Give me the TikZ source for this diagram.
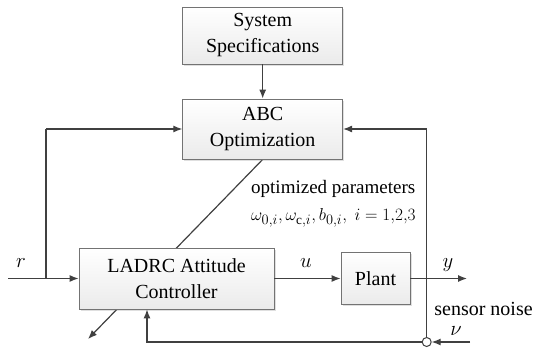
\documentclass[tikz,border=0pt]{standalone}
\usepackage{fontspec}
\setmainfont{Liberation Serif}
\usepackage{amsmath}
\usetikzlibrary{arrows.meta,backgrounds,calc,shadows}

\begin{document}
\begin{tikzpicture}[x=1pt,y=-1pt,
    font=\fontsize{20}{26}\selectfont,
    block/.style={draw=black!55,line width=0.8pt,top color=white,bottom color=black!8,
        align=center,inner sep=0pt,drop shadow={shadow xshift=1.5pt,shadow yshift=-1.5pt,opacity=0.25}},
    sig/.style={draw=black!75,line width=1.2pt,-{Latex[length=9pt,width=7pt]}},
    lbl/.style={inner sep=0pt},
    sumpt/.style={circle,draw=black!75,fill=white,line width=1pt,minimum size=9pt,inner sep=0pt}]
\useasboundingbox (0,0) rectangle (536,351);

% blocks
\node[block,minimum width=160pt,minimum height=57pt] (spec) at (262.7,35.5) {System\\Specifications};
\node[block,minimum width=160pt,minimum height=60pt] (abc) at (262.7,129) {ABC\\Optimization};
\node[block,minimum width=195pt,minimum height=61pt] (ctrl) at (176.5,278.5) {LADRC Attitude\\Controller};
\node[block,minimum width=69pt,minimum height=52pt] (plant) at (375.5,278.5) {Plant};
\node[sumpt] (sum) at (426.7,342) {};

% free ends
\coordinate (rin) at (8,278.5);
\coordinate (br) at (46,278.5);
\coordinate (yout) at (467,278.5);
\coordinate (nin) at (470,342);
\coordinate (fb) at (147,342);
\coordinate (tune) at (88,339);

% signals
\draw[sig] (spec) -- (abc);
\draw[sig] (rin) -- (ctrl.west);
\draw[sig,-] (br) -- (br |- abc.west);
\draw[sig] (br |- abc.west) -- (abc.west);
\draw[sig] (ctrl) -- (plant);
\draw[sig] (plant) -- (yout);
\draw[sig] (sum.north) |- (abc.east);
\draw[sig] (nin) -- (sum.east);
\draw[sig] (sum.west) -- (fb) -- (fb |- ctrl.south);
\begin{pgfonlayer}{background}
\draw[sig] (abc.south) -- (tune);
\end{pgfonlayer}

% labels
\node[lbl] at (21,263) {$r$};
\node[lbl] at (306,263) {$u$};
\node[lbl] at (448,265) {$y$};
\node[lbl] at (483.5,309) {sensor noise};
\node[lbl] at (456,331) {$\nu$};
\node[lbl,anchor=west,font=\fontsize{19}{24}\selectfont] (par) at (251,189) {optimized parameters};
\node[lbl,anchor=west,font=\fontsize{19}{24}\selectfont] (sym) at (251,218)
    {$\omega_{0,i},\omega_{\mathrm{c},i},b_{0,i},\ i=1{,}2{,}3$};
\end{tikzpicture}
\end{document}
